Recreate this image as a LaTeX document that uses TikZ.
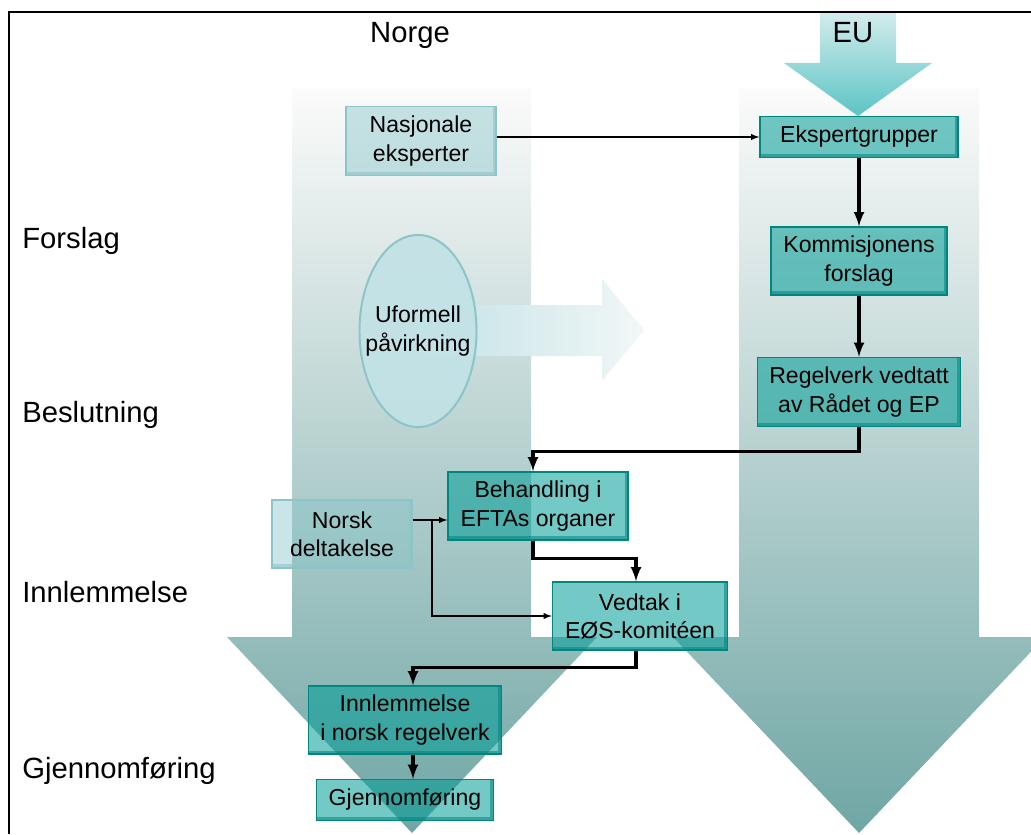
\documentclass[tikz,border=0pt]{standalone}
\usepackage{fontspec}
\setmainfont{Liberation Sans}
\usetikzlibrary{shapes.geometric}
\definecolor{shaftlight}{HTML}{FBFBFA}
\definecolor{shaftmid}{HTML}{BCD2D2}
\definecolor{shaftdark}{HTML}{6FA6A4}
\definecolor{eutop}{HTML}{D2EBEC}
\definecolor{eubot}{HTML}{5CC4C4}
\definecolor{tealfill}{HTML}{009C96}
\definecolor{tealline}{HTML}{00857F}
\definecolor{palefill}{HTML}{89C5CA}
\definecolor{paleline}{HTML}{8CC4C8}
\definecolor{hintleft}{HTML}{C2E2E6}
\definecolor{hintright}{HTML}{F2F7F7}
\newcommand{\boxfont}{\fontsize{16.4}{20}\selectfont}
\newcommand{\phasefont}{\fontsize{20.8}{24}\selectfont}
\tikzset{
  bevel/.style={path picture={\draw[#1,line width=5pt]
    (path picture bounding box.north east) -- (path picture bounding box.south east)
    -- (path picture bounding box.south west);}},
  tealbox/.style={draw=tealline,line width=1pt,fill=tealfill,fill opacity=0.55,
    text opacity=1,align=center,font=\boxfont,inner sep=0pt,bevel={tealfill!85!black,opacity=0.55}},
  palebox/.style={draw=paleline,line width=1pt,fill=palefill,fill opacity=0.45,
    text opacity=1,align=center,font=\boxfont,inner sep=0pt,bevel={paleline,opacity=0.6}},
  phase/.style={anchor=base west,font=\phasefont,inner sep=0pt},
  feed/.style={line width=1pt,-latex},
  flow/.style={line width=2.4pt,-latex},
}

\begin{document}
\begin{tikzpicture}[x=0.025cm,y=-0.025cm]
      \useasboundingbox (0,0) rectangle (1031,834);
      \clip (0,0) rectangle (1031,834);
      % the two big arrows
      \shade[top color=shaftlight,middle color=shaftmid,bottom color=shaftdark]
        (292,88) -- (531,88) -- (531,637) -- (597,637) -- (412,833)
        -- (227,637) -- (292,637) -- cycle;
      \shade[top color=shaftlight,middle color=shaftmid,bottom color=shaftdark]
        (739,88) -- (979,88) -- (979,637) -- (1045,637) -- (859,833)
        -- (673,637) -- (739,637) -- cycle;
      % EU input
      \shade[top color=eutop,bottom color=eubot]
        (820,13) -- (896,13) -- (896,63) -- (932,63) -- (858,116)
        -- (784,63) -- (820,63) -- cycle;
      % influence arrow
      \shade[left color=hintleft,right color=hintright]
        (418,305) -- (602,305) -- (602,279) -- (644,330) -- (602,381)
        -- (602,356) -- (418,356) -- cycle;
      % frame
      \draw[line width=1.5pt] (1031,12) -- (9,12) -- (9,834);
      % headings
      \node[font=\phasefont,anchor=base] (norge) at (410,43) {Norge};
      \node[font=\phasefont,anchor=base] (eu) at (853,43) {EU};
      \node[phase] (forslag) at (22,248) {Forslag};
      \node[phase] (beslut) at (22,422) {Beslutning};
      \node[phase] (innlem) at (22,602) {Innlemmelse};
      \node[phase] (gjfor) at (22,778) {Gjennomføring};
      % boxes
      \node[palebox,minimum width=3.75cm,minimum height=1.725cm] (nasj) at (421,141)
        {Nasjonale\\eksperter};
      \node[ellipse,draw=paleline,line width=1.4pt,fill=hintleft,fill opacity=0.9,
        minimum width=2.925cm,minimum height=4.8cm,inner sep=0pt] (uform) at (418,331) {};
      \node[align=center,font=\boxfont] (uformtext) at (uform) {Uformell\\påvirkning};
      \node[tealbox,minimum width=4.95cm,minimum height=1.025cm] (ekspert) at (859,137)
        {Ekspertgrupper};
      \node[tealbox,minimum width=4.4cm,minimum height=1.7cm] (kommisjon) at (859,261)
        {Kommisjonens\\forslag};
      \node[tealbox,minimum width=5.075cm,minimum height=1.725cm] (regel) at (859,392)
        {Regelverk vedtatt\\av Rådet og EP};
      \node[tealbox,minimum width=4.5cm,minimum height=1.7cm] (beh) at (538,506)
        {Behandling i\\EFTAs organer};
      \node[palebox,minimum width=3.5cm,minimum height=1.7cm] (norsk) at (342,534)
        {Norsk\\deltakelse};
      \node[tealbox,minimum width=4.375cm,minimum height=1.7cm] (vedtak) at (640,616)
        {Vedtak i\\EØS-komitéen};
      \node[tealbox,minimum width=4.825cm,minimum height=1.7cm] (innl) at (405,720)
        {Innlemmelse\\i norsk regelverk};
      \node[tealbox,minimum width=4.425cm,minimum height=1.025cm] (gjen) at (405,800)
        {Gjennomføring};
      \coordinate (split) at (432,520);
      % connectors
      \draw[feed] (nasj.east |- ekspert.west) -- (ekspert.west);
      \draw[flow] (ekspert) -- (kommisjon);
      \draw[flow] (kommisjon) -- (regel);
      \draw[flow] (regel.south) -- ++(0,24) -| ([xshift=-0.125cm]beh.north);
      \draw[flow] ([xshift=-0.125cm]beh.south) -- ++(0,18) -| ([xshift=-0.1cm]vedtak.north);
      \draw[flow] ([xshift=-0.1cm]vedtak.south) -- ++(0,17) -| ([xshift=0.2cm]innl.north);
      \draw[flow] ([xshift=0.2cm]innl.south) -- ([xshift=0.2cm]gjen.north);
      \draw[feed] (norsk.east |- split) -- (beh.west |- split);
      \draw[feed] (split) |- (vedtak.west);
\end{tikzpicture}
\end{document}
